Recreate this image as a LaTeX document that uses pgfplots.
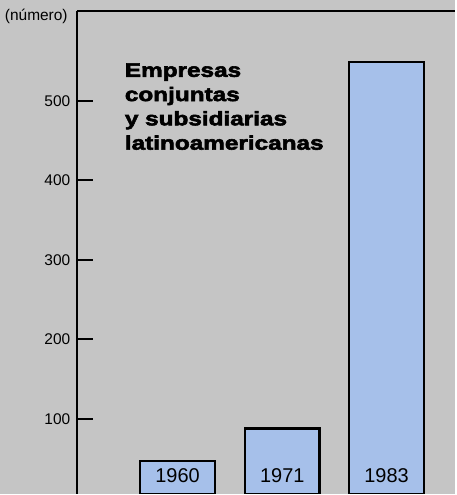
\documentclass[border=0pt]{standalone}
\usepackage{pgfplots}
\pgfplotsset{compat=1.18}
\usepackage{fontspec}
\setmainfont{Liberation Sans}
\newfontfamily\titlefont[FakeStretch=1.25,BoldFeatures={FakeBold=3}]{Liberation Sans}
\definecolor{bg}{RGB}{197,197,197}
\definecolor{barblue}{RGB}{166,192,234}
\begin{document}
\begin{tikzpicture}[x=1pt,y=1pt]
\fill[bg] (0,0) rectangle (456,495);
\begin{axis}[
  at={(77pt,0pt)}, anchor=south west,
  scale only axis, width=379pt, height=484pt,
  xmin=0, xmax=379, ymin=6, ymax=613,
  axis x line=top, axis y line=left,
  axis line style={-, line width=2.4pt, black},
  xtick=\empty,
  ytick={100,200,300,400,500},
  tick align=inside,
  major tick length=16pt,
  tick style={line width=2pt, black},
  yticklabel style={font=\fontsize{15.5}{17}\selectfont, anchor=east, xshift=-3pt},
  /pgf/number format/assume math mode=true,
  clip=true,
]
\addplot[ybar, bar width=75pt, bar shift=0pt, fill=barblue, draw=black, line width=2.6pt]
  coordinates {(101,47) (206,88) (310.5,549)};
\node[font=\fontsize{20}{22}\selectfont] at (axis cs:101,29) {1960};
\node[font=\fontsize{20}{22}\selectfont] at (axis cs:206,29) {1971};
\node[font=\fontsize{20}{22}\selectfont] at (axis cs:310.5,29) {1983};
\end{axis}
\node[anchor=east, inner sep=0pt, font=\fontsize{15.5}{17}\selectfont] at (68,479) {(número)};
\begin{scope}[every node/.style={anchor=base west, inner sep=0pt, font=\fontsize{19.5}{22}\titlefont\bfseries}]
\node at (125,418) {Empresas};
\node at (125,393.7) {conjuntas};
\node at (125,369.4) {y subsidiarias};
\node at (125,345) {latinoamericanas};
\end{scope}
\end{tikzpicture}
\end{document}
